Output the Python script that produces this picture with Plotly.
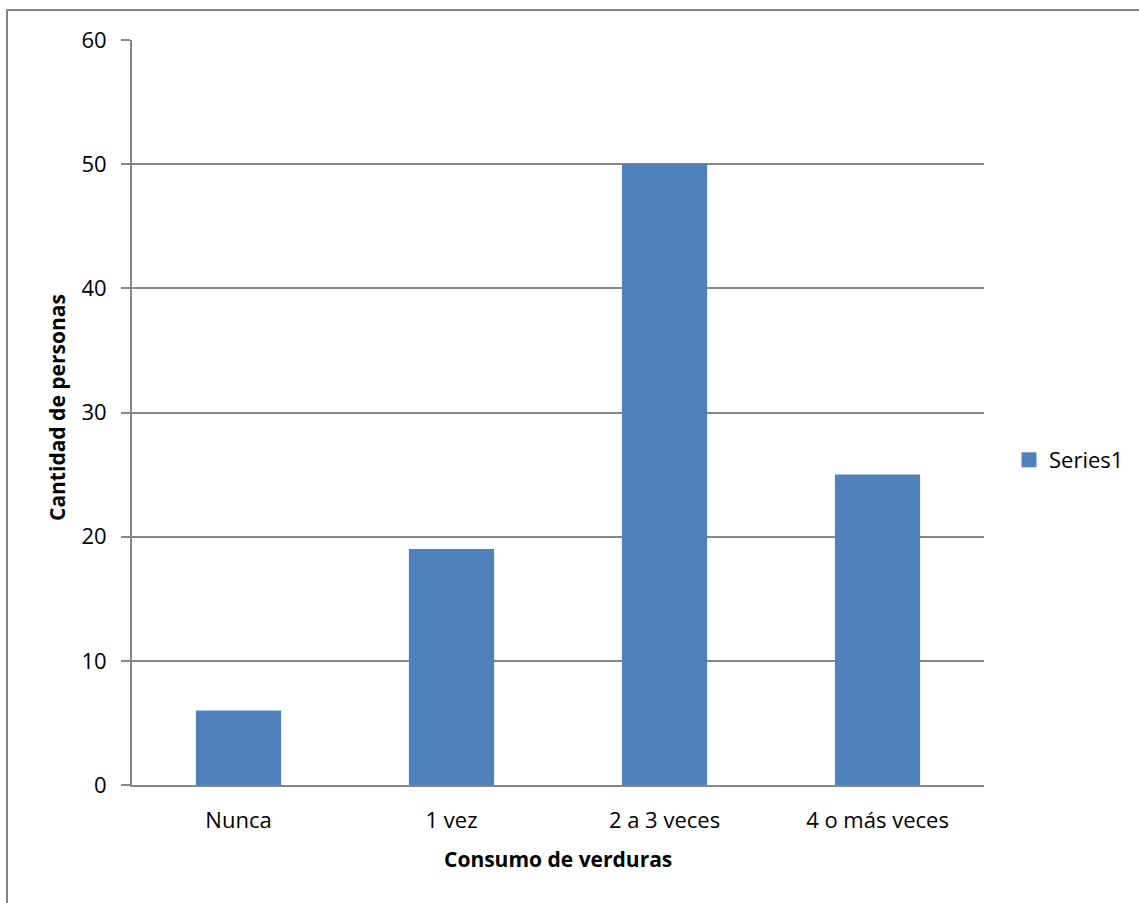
import plotly.graph_objects as go

categories = ["Nunca", "1 vez", "2 a 3 veces", "4 o más veces"]
values = [6, 19, 50, 25]
series_name = "Series1"
y_ticks = [0, 10, 20, 30, 40, 50, 60]

FONT = "Open Sans"
GRID = "#868686"
BAR = "#4F81BD"

L, R, T, B = 132, 155, 40, 118
W, H = 1139, 903
pw, ph = W - L - R, H - T - B

def px_x(x):
    return (x - L) / pw

def px_y(y):
    return (H - B - y) / ph

fig = go.Figure()
fig.add_trace(go.Bar(x=categories, y=values, name=series_name,
                     marker=dict(color=BAR, line=dict(width=0)),
                     showlegend=False))
# legend entry with a larger square swatch
fig.add_trace(go.Scatter(x=[None], y=[None], mode="markers", name=series_name,
                         marker=dict(symbol="square", size=15, color=BAR),
                         showlegend=True, hoverinfo="skip"))

fig.update_layout(
    width=W, height=H,
    margin=dict(l=L, r=R, t=T, b=B, pad=0, autoexpand=False),
    paper_bgcolor="white", plot_bgcolor="white",
    bargap=0.6,
    font=dict(family=FONT, size=22, color="#000000"),
    showlegend=True,
    legend=dict(x=px_x(1009), y=px_y(460), xanchor="left", yanchor="middle",
                font=dict(family=FONT, size=22, color="#000000"),
                bgcolor="rgba(0,0,0,0)", itemwidth=30),
    xaxis=dict(showgrid=False, showline=True, linecolor=GRID, linewidth=2,
               ticks="", tickfont=dict(family=FONT, size=22),
               ticklabelstandoff=15, zeroline=False, fixedrange=True),
    yaxis=dict(range=[0, 60], tickvals=y_ticks, showgrid=True, gridcolor=GRID,
               gridwidth=2, showline=True, linecolor=GRID, linewidth=2,
               ticks="outside", ticklen=9, tickcolor=GRID, tickwidth=2,
               tickfont=dict(family=FONT, size=22), ticklabelstandoff=10,
               zeroline=False, fixedrange=True),
    shapes=[dict(type="rect", xref="paper", yref="paper",
                 x0=px_x(7), x1=1.3, y0=-0.3, y1=px_y(10),
                 line=dict(color=GRID, width=2), fillcolor="rgba(0,0,0,0)",
                 layer="below")],
    annotations=[
        dict(text="<b>Consumo de verduras</b>", xref="paper", yref="paper",
             x=0.5, y=px_y(859), xanchor="center", yanchor="middle",
             showarrow=False, font=dict(family=FONT, size=21)),
        dict(text="<b>Cantidad de personas</b>", xref="paper", yref="paper",
             x=px_x(57), y=px_y(408), xanchor="center", yanchor="middle",
             textangle=-90, showarrow=False, font=dict(family=FONT, size=21)),
    ],
)

fig.write_html("out.html", config={"displayModeBar": False},
               post_script="document.body.style.margin='0';document.body.style.overflow='hidden';")
